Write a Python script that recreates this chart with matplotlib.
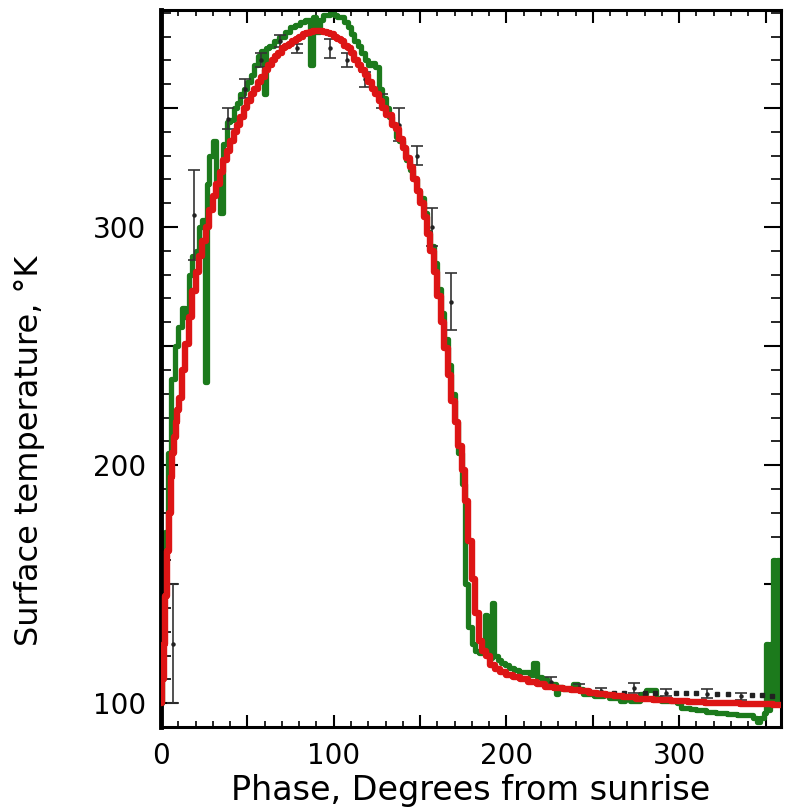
import numpy as np
import matplotlib
matplotlib.use("Agg")
import matplotlib.pyplot as plt
import matplotlib.ticker as mticker

# observed surface temperature (green, stepped)
green_x = [0, 1, 2, 3, 5, 7, 9, 11, 13, 15, 17, 19, 21, 23, 25, 26, 27, 29, 31, 33,
           35, 37, 39, 41, 43, 45, 47, 49, 51, 53, 55, 57, 59, 60, 61, 64, 67, 70, 73, 76,
           79, 82, 85, 87, 89, 91, 93, 95, 97, 99, 101, 103, 105, 107, 109, 111, 113, 115, 117, 119,
           121, 123, 125, 127, 129, 131, 133, 135, 137, 139, 141, 143, 145, 147, 149, 151, 153, 155, 157, 159,
           161, 163, 165, 167, 169, 171, 173, 175, 177, 179, 181, 183, 185, 187, 188, 190, 191, 192, 194, 196,
           198, 200, 203, 206, 209, 212, 215, 216, 219, 222, 225, 228, 229, 231, 234, 237, 240, 243, 246, 249,
           252, 255, 258, 261, 264, 267, 270, 273, 276, 279, 282, 285, 288, 291, 294, 297, 300, 302, 305, 308,
           311, 314, 317, 320, 323, 326, 329, 332, 335, 338, 341, 344, 346, 348, 350, 351, 352, 353, 354, 355,
           356, 357, 358, 359]
green_y = [100, 160, 150, 172, 205, 236, 250, 258, 266, 262, 280, 288, 290, 300, 303, 235, 318, 330, 336, 318,
           306, 335, 344, 345, 350, 352, 356, 358, 361, 364, 368, 372, 374, 356, 375, 376, 378, 380, 382, 384,
           385, 386, 387, 368, 388, 382, 387, 389, 389, 390, 389, 388, 388, 386, 384, 381, 378, 376, 373, 370,
           368, 369, 367, 358, 354, 350, 346, 343, 338, 336, 333, 328, 324, 320, 315, 312, 306, 298, 292, 285,
           274, 264, 253, 242, 230, 218, 205, 192, 150, 132, 125, 122, 121, 124, 137, 120, 119, 142, 120, 118,
           117, 116, 115, 114, 113, 113, 112, 117, 111, 110, 108, 108, 104, 107, 106, 106, 108, 106, 104, 104,
           103, 103, 104, 102, 102, 101, 102, 101, 101, 104, 105.5, 105.5, 102, 101, 101, 101, 100, 98, 98, 97.5,
           97, 97, 96.5, 96.5, 96, 96, 95.5, 95.5, 95, 95, 95, 94, 92, 94, 96, 125, 97, 125, 100, 160,
           100, 160, 105, 160]

# model fit (red)
fit_x = [0, 1, 2, 3, 4, 5, 6, 7, 8, 9, 10, 11, 13, 15, 17, 19, 21, 23, 25, 27,
         29, 31, 33, 35, 37, 39, 41, 43, 45, 47, 49, 51, 53, 55, 57, 59, 61, 63, 65, 67,
         69, 71, 73, 75, 77, 79, 81, 83, 85, 87, 89, 91, 93, 95, 97, 99, 101, 103, 105, 107,
         109, 111, 113, 115, 117, 119, 121, 123, 125, 127, 129, 131, 133, 135, 137, 139, 141, 143, 145, 147,
         149, 151, 153, 155, 157, 159, 161, 163, 165, 167, 169, 171, 173, 175, 177, 179, 181, 183, 185, 187,
         189, 192, 195, 198, 202, 206, 210, 215, 220, 225, 230, 235, 240, 245, 250, 255, 260, 265, 270, 280,
         290, 300, 310, 320, 330, 340, 350, 359]
fit_y = [100, 110, 125, 145, 164, 180, 195, 205, 212, 218, 223, 228, 240, 251, 262, 273, 281, 288, 294, 300,
         307, 313, 318, 323, 328, 332, 336, 340, 343, 346, 350, 353, 356, 358, 361, 363, 366, 368, 370, 372,
         373, 375, 376, 377, 378, 379, 380, 381, 381.5, 382, 382.5, 382.5, 382.5, 382, 381.5, 381, 380, 379, 378, 376,
         375, 373, 370, 368, 366, 364, 361, 358, 356, 353, 350, 347, 347, 343, 341, 337, 333, 329, 325, 320,
         315, 310, 304, 297, 290, 281, 271, 260, 249, 238, 227, 218, 208, 198, 185, 168, 152, 138, 126, 122,
         120, 116, 114.5, 113, 112, 111, 110, 109, 108, 107, 106.5, 106, 105.5, 105, 104.5, 104, 103.5, 103, 102.5, 101.8,
         101.2, 100.8, 100.4, 100.1, 99.9, 99.7, 99.5, 99.3]

# measured points with error bars
err_x = [7, 19, 38.6, 48.6, 58, 69, 78.6, 97.7, 107.7, 118, 128, 138, 148, 157, 168,
         226, 242, 255, 274, 292.5, 316, 336]
err_y = [125, 305, 345.5, 358, 370, 378, 375, 375, 370, 362, 353, 343, 330, 300, 268.7,
         109, 106.5, 105, 106.5, 104.5, 104, 103]
err_e = [25, 19, 4.5, 4, 3, 2.5, 2, 4, 3, 3, 3, 7, 4, 8, 12,
         2, 1.5, 1.5, 2, 1.5, 2, 1.5]

# dotted points in the night tail
dot_x = [248, 262, 268, 280, 286, 298, 304, 310, 322, 328, 342, 348, 354]
dot_y = [105, 104.5, 104.5, 104.5, 104.5, 104.5, 104.3, 104.2, 104, 104, 103.5, 103.3, 103.2]

fig = plt.figure(figsize=(7.96, 8.08), dpi=100)
ax = fig.add_axes([0.2023, 0.1002, 0.779, 0.887])

ax.plot(green_x, green_y, color='#1c7a1c', lw=3.8, drawstyle='steps-mid', zorder=2)
ax.errorbar(err_x, err_y, yerr=err_e, fmt='o', ms=2.2, color='#222222', ecolor='#333333',
            elinewidth=1.2, capsize=4, capthick=1.2, zorder=3)
ax.plot(dot_x, dot_y, 's', ms=2.2, color='#222222', zorder=3)
ax.plot(fit_x, fit_y, color='#dd1515', lw=4.6, drawstyle='steps-mid', zorder=4)

ax.set_xlim(0, 359)
ax.set_ylim(90, 391)

ax.xaxis.set_major_locator(mticker.MultipleLocator(50))
ax.xaxis.set_minor_locator(mticker.MultipleLocator(10))
ax.yaxis.set_major_locator(mticker.MultipleLocator(50))
ax.yaxis.set_minor_locator(mticker.MultipleLocator(10))
only_hundreds = mticker.FuncFormatter(lambda v, p: '%d' % v if v % 100 == 0 else '')
ax.xaxis.set_major_formatter(only_hundreds)
ax.yaxis.set_major_formatter(only_hundreds)

ax.tick_params(which='both', direction='in', top=True, right=True, colors='black')
ax.tick_params(axis='x', which='major', length=9, width=1.5, pad=11)
ax.tick_params(axis='x', which='minor', length=4, width=1.2)
ax.tick_params(axis='y', which='major', length=12, width=1.5, pad=11)
ax.tick_params(axis='y', which='minor', length=7, width=1.2)

for lab in ax.get_xticklabels() + ax.get_yticklabels():
    lab.set_fontfamily('DejaVu Sans')
    lab.set_fontsize(20)

for side in ['top', 'right', 'bottom']:
    ax.spines[side].set_linewidth(2.2)
ax.spines['left'].set_linewidth(3.5)

ax.set_xlabel('Phase, Degrees from sunrise', fontsize=24, family='DejaVu Sans', va='center')
ax.xaxis.set_label_coords(0.5, -0.088)
ax.set_ylabel('Surface temperature, °K', fontsize=23, family='DejaVu Sans', va='center')
ax.yaxis.set_label_coords(-0.212, 0.386)

fig.savefig('out.png', dpi=100)
